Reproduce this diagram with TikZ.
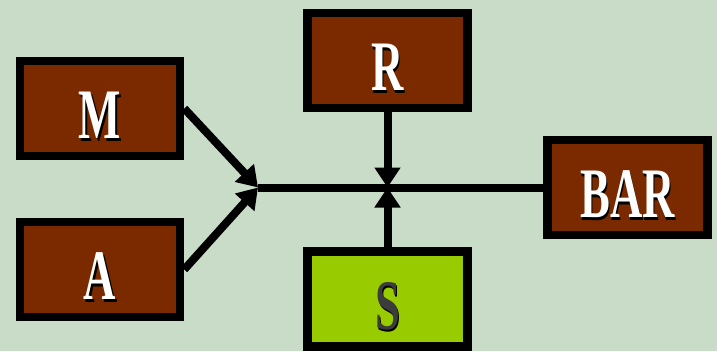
\documentclass[tikz,border=0pt]{standalone}
\usepackage{fontspec}
\usepackage{graphicx}
\setmainfont{Liberation Serif}
\usetikzlibrary{arrows.meta}
\definecolor{bgreen}{HTML}{C8DCC7}
\definecolor{brick}{HTML}{7B2A00}
\definecolor{lime}{HTML}{99CC00}
\definecolor{darkgrey}{HTML}{3C3C3C}
\newcommand{\shadowed}[2]{\scalebox{0.63}[1]{\makebox[0pt][l]{\hspace{2.5pt}\raisebox{-2.5pt}{\color{black}#2}}{\color{#1}#2}}}
\tikzset{
  blk/.style={draw=black,line width=8.5pt,minimum width=160pt,minimum height=95pt,
    inner sep=0pt,text height=60pt,text depth=0pt,
    font=\fontsize{71}{71}\selectfont\bfseries},
  arr/.style={line width=8pt,-{Triangle[length=20pt,width=25pt]}}
}
\begin{document}
\begin{tikzpicture}[x=1pt,y=-1pt]
			\fill[bgreen] (0,0) rectangle (717,351);
			\useasboundingbox (0,0) rectangle (717,351);
			\node[blk,fill=brick] (M) at (100,108.5) {\shadowed{white}{M}};
			\node[blk,fill=brick] (A) at (100,269.5) {\shadowed{white}{A}};
			\node[blk,fill=brick] (R) at (387.5,60.5) {\shadowed{white}{R}};
			\node[blk,fill=lime] (S) at (387.5,299) {\shadowed{darkgrey}{S}};
			\node[blk,fill=brick] (BAR) at (627.5,187.5) {\shadowed{white}{BAR}};
			\coordinate (j) at (387.5,187.5);
			\coordinate (jl) at (258,187.5);
			\draw[line width=8pt] (jl) -- (BAR.west);
			\draw[arr] (M.east) -- (jl);
			\draw[arr] (A.east) -- (jl);
			\draw[arr] (R.south) -- (j);
			\draw[arr] (S.north) -- (j);
		\end{tikzpicture}
\end{document}
